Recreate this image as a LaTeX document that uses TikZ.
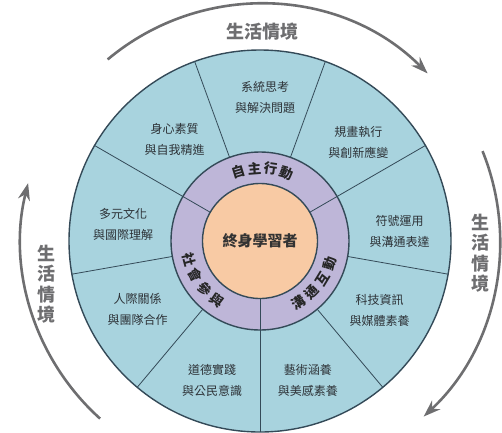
\documentclass[tikz,border=0pt]{standalone}
\usepackage{fontspec}
\newfontfamily\cjk{Noto Sans CJK TC}
\usetikzlibrary{arrows.meta}
\definecolor{segblue}{RGB}{168,211,222}
\definecolor{ringpurple}{RGB}{190,182,216}
\definecolor{coreorange}{RGB}{248,202,164}
\definecolor{lineslate}{RGB}{52,74,88}
\definecolor{skilltext}{RGB}{45,50,55}
\definecolor{ctxgray}{RGB}{110,110,112}
\def\RCore{57.5}
\def\RRing{89}
\def\ROuter{191}
\def\RCtx{237}
\tikzset{
  seg line/.style={draw=lineslate, line width=0.8pt},
  rim/.style={draw=lineslate, line width=1.4pt},
  skill/.style={font=\cjk\fontsize{12}{21}\selectfont, text=skilltext, align=center},
  ring char/.style={font=\cjk\bfseries\fontsize{13.5}{13.5}\selectfont, text=black!85, inner sep=0pt},
  core/.style={font=\cjk\bfseries\fontsize{15}{15}\selectfont, text=black!80},
  context/.style={font=\cjk\bfseries\fontsize{18}{20.5}\selectfont, text=ctxgray, align=center},
  context arrow/.style={draw=ctxgray, line width=2.6pt, -{Stealth[length=17pt,width=12pt]}},
}
\begin{document}
\begin{tikzpicture}[x=1pt,y=1pt]
  \useasboundingbox (-260,-191) rectangle (242,241);
  \coordinate (c) at (0,0);
  % discs
  \fill[segblue] (c) circle[radius=\ROuter];
  \fill[ringpurple] (c) circle[radius=\RRing];
  \fill[coreorange] (c) circle[radius=\RCore];
  % dividers of the nine skills
  \foreach \ang in {70,110,190,230,310,350}
    \draw[seg line] (\ang:\RRing) -- (\ang:\ROuter);
  % dividers of the three dimensions
  \foreach \ang in {30,150,270}
    \draw[seg line] (\ang:\RCore) -- (\ang:\ROuter);
  \draw[rim] (c) circle[radius=\ROuter];
  \draw[rim] (c) circle[radius=\RRing];
  \draw[rim] (c) circle[radius=\RCore];
  % core
  \node[core] (learner) at (c) {終身學習者};
  % dimensions along the ring
  \foreach \ch [count=\k] in {自,主,行,動}
    \node[ring char, rotate={107-(\k-1)*12.7-90}] (auto\k) at ({107-(\k-1)*12.7}:73) {\ch};
  \foreach \ch [count=\k] in {溝,通,互,動}
    \node[ring char, rotate={302+(\k-1)*13.3+90}] (comm\k) at ({302+(\k-1)*13.3}:73) {\ch};
  \foreach \ch [count=\k] in {社,會,參,與}
    \node[ring char, rotate={195+(\k-1)*13+90}] (soc\k) at ({195+(\k-1)*13}:73) {\ch};
  % nine skills
  \foreach \ang/\rad/\txt [count=\i] in {
      88/144/{系統思考\\與解決問題},
      45/139/{規畫執行\\與創新應變},
      4/140/{符號運用\\與溝通表達},
      330/138/{科技資訊\\與媒體素養},
      289/147/{藝術涵養\\與美感素養},
      251/147/{道德實踐\\與公民意識},
      209/140/{人際關係\\與團隊合作},
      173/138/{多元文化\\與國際理解},
      130/133/{身心素質\\與自我精進}}
    \node[skill] (skill\i) at (\ang:\rad) {\txt};
  % life context arrows
  \coordinate (top0) at (130:\RCtx);
  \coordinate (right0) at (22:\RCtx+3);
  \coordinate (left0) at (228:\RCtx+2);
  \draw[context arrow] (top0) arc[start angle=130, end angle=45, radius=\RCtx];
  \draw[context arrow] (right0) arc[start angle=22, end angle=-47, radius=\RCtx+3];
  \draw[context arrow] (left0) arc[start angle=228, end angle=166, radius=\RCtx+2];
  \node[context] (ctxtop) at (2,209) {生活情境};
  \node[context] (ctxright) at (220,-12) {生\\活\\情\\境};
  \node[context] (ctxleft) at (-213,-43) {生\\活\\情\\境};
\end{tikzpicture}
\end{document}
